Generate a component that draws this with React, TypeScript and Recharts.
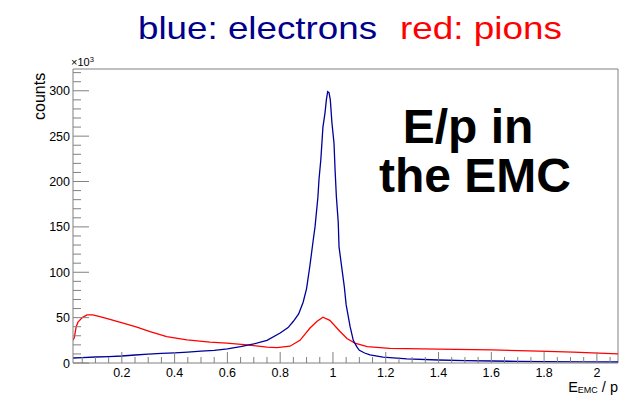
import { LineChart, Line, XAxis, YAxis, ReferenceLine } from 'recharts';

// electrons (blue), counts in units of 10^3
const electronX = [
  0.015, 0.05, 0.1, 0.15, 0.2, 0.25, 0.3, 0.35, 0.4, 0.45, 0.5, 0.55, 0.6, 0.65, 0.7, 0.75, 0.8, 0.83, 0.85,
  0.87, 0.887, 0.9, 0.913, 0.925, 0.932, 0.943, 0.947, 0.954, 0.958, 0.962, 0.97, 0.975, 0.98, 0.985, 0.99,
  0.996, 1.004, 1.008, 1.013, 1.02, 1.023, 1.033, 1.043, 1.05, 1.065, 1.077, 1.09, 1.1, 1.12, 1.14, 1.19,
  1.28, 1.4, 1.5, 1.6, 1.7, 1.8, 1.95, 2.08,
];
const electronCounts = [
  5.5, 6, 6.6, 7, 7.7, 8.8, 9.8, 10.5, 11.2, 12, 13, 14, 15.5, 18, 21, 25, 33, 39, 46,
  54, 67, 82, 108, 135, 150, 183, 202, 224, 242, 260, 276, 290, 299, 298, 290,
  265, 242, 213, 183, 155, 128, 106, 84, 64, 40, 25, 18, 14, 11, 9, 6.5,
  4.5, 3.3, 2.7, 2.2, 1.8, 1.5, 1.2, 1.1,
];

// pions (red)
const pionX = [
  0.015, 0.02, 0.027, 0.034, 0.05, 0.068, 0.09, 0.117, 0.155, 0.205, 0.257, 0.307, 0.37, 0.447, 0.534, 0.598,
  0.674, 0.75, 0.788, 0.837, 0.875, 0.913, 0.94, 0.962, 0.988, 1.026, 1.053, 1.083, 1.13, 1.215, 1.4, 1.6,
  1.78, 1.91, 2.08,
];
const pionCounts = [
  25, 28, 40, 45, 50, 53, 53, 51, 48, 44, 39.5, 34.5, 29, 25.5, 23, 22,
  20, 17.5, 17, 18.5, 25, 38.5, 46, 50.5, 47, 35, 27, 22, 18, 16.2, 15.2, 14.5,
  13, 12, 10,
];

const xMajorTicks = [0.2, 0.4, 0.6, 0.8, 1, 1.2, 1.4, 1.6, 1.8, 2];
const xTickLabels = ['0.2', '0.4', '0.6', '0.8', '1', '1.2', '1.4', '1.6', '1.8', '2'];
const yMajorTicks = [0, 50, 100, 150, 200, 250, 300];
const yTickLabels = ['0', '50', '100', '150', '200', '250', '300'];

const X_MIN = 0.015;
const X_MAX = 2.08;
const Y_MAX = 324;

const xMinorTicks: number[] = [];
for (let i = 1; i <= 41; i++) xMinorTicks.push(Math.round(i * 5) / 100);
const yMinorTicks: number[] = [];
for (let v = 0; v <= 320; v += 10) yMinorTicks.push(v);

const electronData = electronX.map((x, i) => ({ x, counts: electronCounts[i] }));
const pionData = pionX.map((x, i) => ({ x, counts: pionCounts[i] }));

const font = '"Liberation Sans", Arial, Helvetica, sans-serif';
const axisGrey = '#808080';

function XTick(props: any) {
  const { x, y, payload } = props;
  const v = payload.value;
  const idx = xMajorTicks.findIndex((m) => Math.abs(m - v) < 1e-6);
  const len = idx >= 0 ? 11 : 6;
  return (
    <g>
      <line x1={x} x2={x} y1={y} y2={y - len} stroke={axisGrey} strokeWidth={1} />
      {idx >= 0 && (
        <text x={x} y={y + 13.5} textAnchor="middle" fontSize={12.5} fontFamily={font} fill="#000">
          {xTickLabels[idx]}
        </text>
      )}
    </g>
  );
}

function YTick(props: any) {
  const { x, y, payload } = props;
  const v = payload.value;
  const idx = yMajorTicks.indexOf(v);
  const len = idx >= 0 ? 16 : 8;
  return (
    <g>
      <line x1={x} x2={x + len} y1={y} y2={y} stroke={axisGrey} strokeWidth={1} />
      {idx >= 0 && (
        <text x={x - 3} y={y + 4.5} textAnchor="end" fontSize={12.5} fontFamily={font} fill="#000">
          {yTickLabels[idx]}
        </text>
      )}
    </g>
  );
}

export default function App() {
  return (
    <div style={{ position: 'absolute', left: 0, top: 0, width: 621, height: 395, background: '#fff' }}>
      <LineChart width={621} height={395} margin={{ top: 69, right: 3, left: 33, bottom: 12 }}>
        <XAxis
          dataKey="x"
          type="number"
          domain={[X_MIN, X_MAX]}
          allowDataOverflow
          ticks={xMinorTicks.filter((t) => t > X_MIN && t < X_MAX)}
          interval={0}
          tickSize={0}
          tickMargin={0}
          tickLine={false}
          tick={<XTick />}
          axisLine={{ stroke: axisGrey }}
          height={20}
        />
        <YAxis
          type="number"
          domain={[0, Y_MAX]}
          allowDataOverflow
          ticks={yMinorTicks}
          interval={0}
          tickSize={0}
          tickMargin={0}
          tickLine={false}
          tick={<YTick />}
          axisLine={{ stroke: axisGrey }}
          width={40}
        />
        <ReferenceLine y={Y_MAX} stroke={axisGrey} />
        <ReferenceLine x={X_MAX} stroke={axisGrey} />
        <Line
          data={pionData}
          dataKey="counts"
          type="linear"
          stroke="#ff0000"
          strokeWidth={1.3}
          dot={false}
          isAnimationActive={false}
        />
        <Line
          data={electronData}
          dataKey="counts"
          type="linear"
          stroke="#00009c"
          strokeWidth={1.3}
          dot={false}
          isAnimationActive={false}
        />
      </LineChart>
      <svg
        width={621}
        height={395}
        style={{ position: 'absolute', left: 0, top: 0, pointerEvents: 'none' }}
      >
        <text x={138} y={39} fontSize={32} fontFamily={font} fill="#00008b" textLength={239} lengthAdjust="spacingAndGlyphs">
          blue: electrons
        </text>
        <text x={400} y={39} fontSize={32} fontFamily={font} fill="#ff0000" textLength={162} lengthAdjust="spacingAndGlyphs">
          red: pions
        </text>
        <text x={468} y={143} textAnchor="middle" fontSize={48} fontWeight="bold" fontFamily={font} fill="#000">
          E/p in
        </text>
        <text x={475} y={192} textAnchor="middle" fontSize={48} fontWeight="bold" fontFamily={font} fill="#000">
          the EMC
        </text>
        <text x={0} y={0} transform="translate(45,120) rotate(-90)" fontSize={16} fontFamily={font} fill="#000">
          counts
        </text>
        <text x={71} y={66} fontSize={11} fontFamily={font} fill="#000">
          ×10<tspan dy={-4} fontSize={7.5}>3</tspan>
        </text>
        <text x={618} y={392} textAnchor="end" fontFamily={font} fill="#000" fontSize={14.5}>
          E<tspan fontSize={9} dy={1}>EMC</tspan>
          <tspan dy={-1}> / p</tspan>
        </text>
      </svg>
    </div>
  );
}
